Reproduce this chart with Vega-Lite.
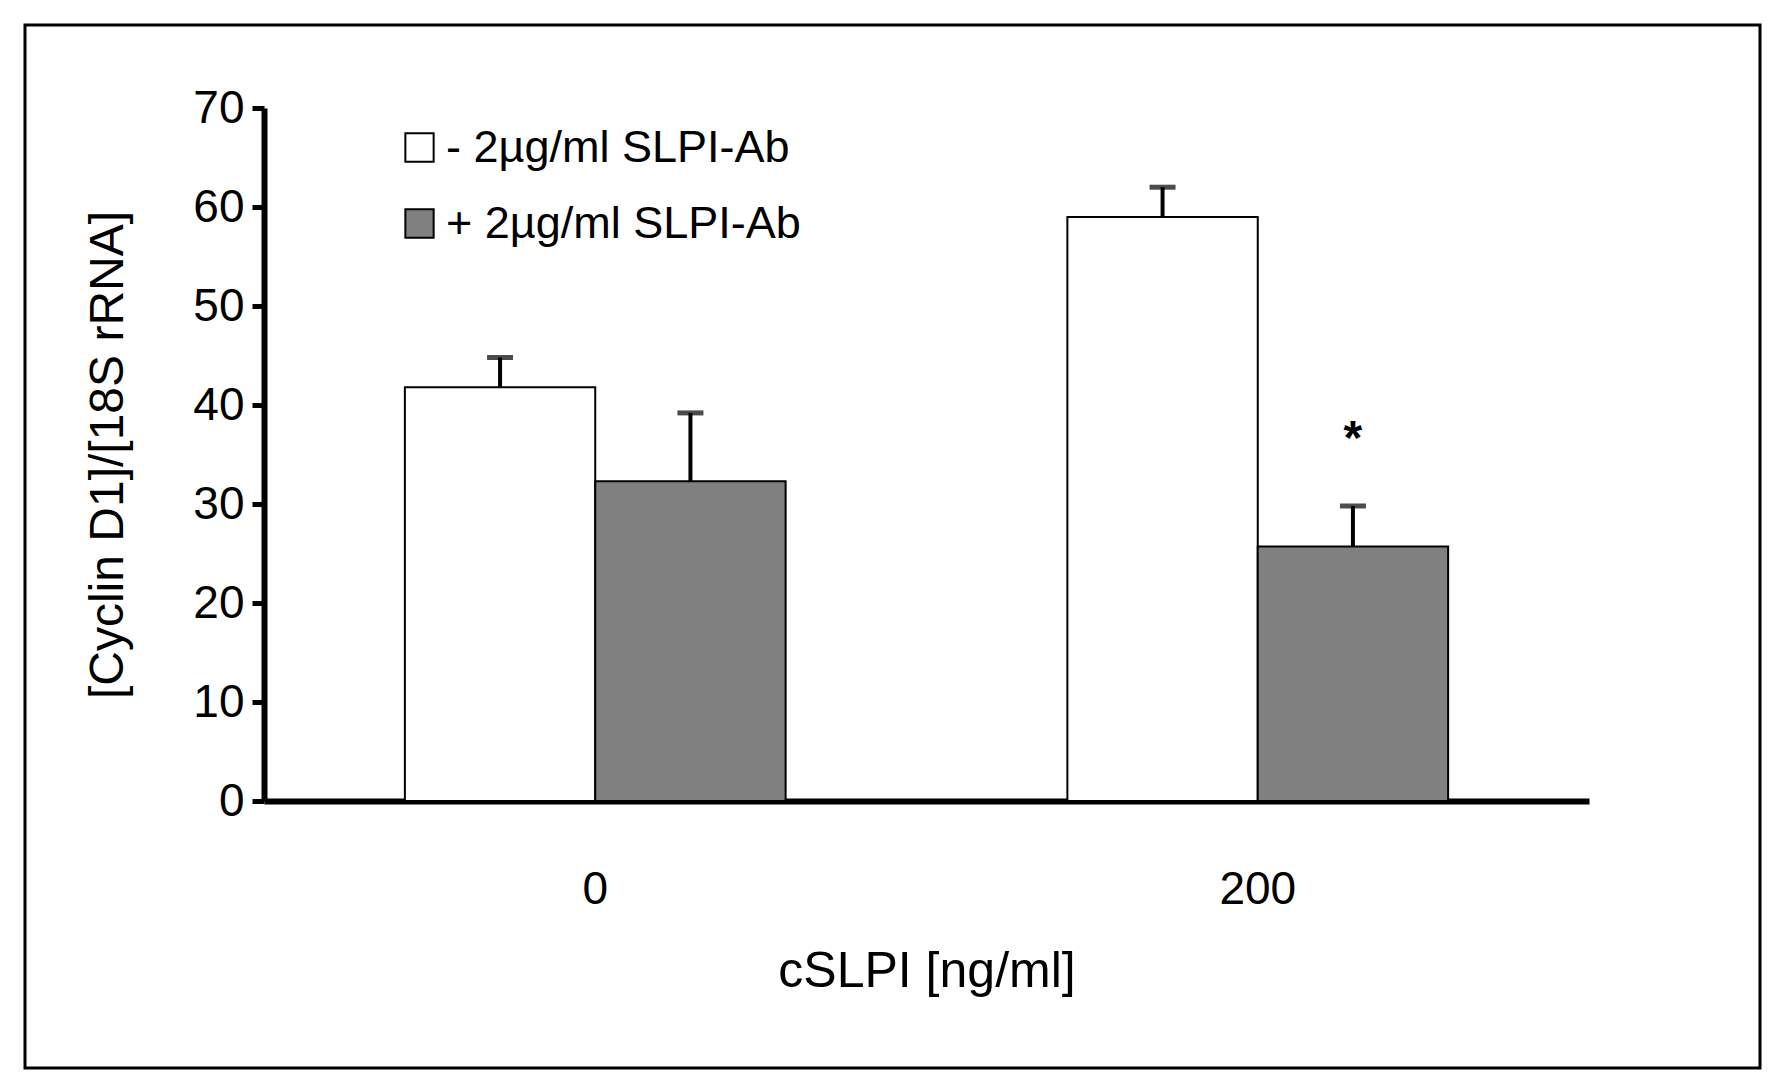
{
  "$schema": "https://vega.github.io/schema/vega-lite/v6.json",
  "autosize": {"type": "none"},
  "width": 1735,
  "height": 1043,
  "padding": {"left": 25, "top": 25, "right": 26, "bottom": 17},
  "background": "white",
  "config": {
    "view": {"stroke": "black", "strokeWidth": 3},
    "font": "Liberation Sans",
    "axis": {"labelFont": "Liberation Sans", "titleFont": "Liberation Sans", "labelColor": "black", "titleColor": "black", "domainColor": "black", "tickColor": "black", "grid": false}
  },
  "data": {"values": [
    {"dose": "0", "group": "- 2µg/ml SLPI-Ab", "value": 41.8, "upper": 44.8, "star": ""},
    {"dose": "0", "group": "+ 2µg/ml SLPI-Ab", "value": 32.3, "upper": 39.2, "star": ""},
    {"dose": "200", "group": "- 2µg/ml SLPI-Ab", "value": 59.0, "upper": 62.0, "star": ""},
    {"dose": "200", "group": "+ 2µg/ml SLPI-Ab", "value": 25.7, "upper": 29.8, "star": "*"}
  ]},
  "encoding": {
    "x": {"field": "dose", "type": "nominal", "sort": ["0", "200"],
      "scale": {"range": [239, 1564], "paddingInner": 0, "paddingOuter": 0},
      "axis": {"orient": "bottom", "offset": -267, "title": "cSLPI [ng/ml]", "titleFontSize": 50, "titleFontWeight": "normal", "titlePadding": 34, "labelAngle": 0, "labelFontSize": 46, "labelPadding": 66, "ticks": false, "domainWidth": 6}
    },
    "xOffset": {"field": "group", "type": "nominal", "sort": ["- 2µg/ml SLPI-Ab", "+ 2µg/ml SLPI-Ab"], "scale": {"paddingInner": 0, "paddingOuter": 0.74}},
    "y": {"type": "quantitative", "scale": {"domain": [0, 70], "range": [776, 83], "nice": false},
      "axis": {"orient": "left", "offset": -239, "values": [0, 10, 20, 30, 40, 50, 60, 70], "title": "[Cyclin D1]/[18S rRNA]", "titleFontSize": 48, "titleFontWeight": "normal", "titlePadding": 60, "labelFontSize": 46, "labelPadding": 8, "tickSize": 12, "tickWidth": 5, "domainWidth": 6}
    }
  },
  "layer": [
    {
      "mark": {"type": "bar", "stroke": "black", "strokeWidth": 2},
      "encoding": {
        "y": {"field": "value", "type": "quantitative"},
        "color": {"field": "group", "type": "nominal", "sort": ["- 2µg/ml SLPI-Ab", "+ 2µg/ml SLPI-Ab"],
          "scale": {"range": ["#ffffff", "#808080"]},
          "legend": {"orient": "none", "legendX": 372, "legendY": 100, "title": null, "symbolType": "square", "symbolSize": 800, "symbolStrokeColor": "black", "symbolStrokeWidth": 2, "labelFontSize": 45, "labelFont": "Liberation Sans", "labelColor": "black", "labelLimit": 1000, "rowPadding": 30, "labelOffset": 4}
        }
      }
    },
    {
      "mark": {"type": "rule", "strokeWidth": 4, "color": "black"},
      "encoding": {"y": {"field": "value", "type": "quantitative"}, "y2": {"field": "upper"}}
    },
    {
      "mark": {"type": "tick", "thickness": 5, "size": 26, "color": "black"},
      "encoding": {"y": {"field": "upper", "type": "quantitative"}}
    },
    {
      "mark": {"type": "text", "fontSize": 48, "fontWeight": "bold", "color": "black", "baseline": "middle"},
      "encoding": {"y": {"datum": 36.5, "type": "quantitative"}, "text": {"field": "star"}}
    }
  ]
}
